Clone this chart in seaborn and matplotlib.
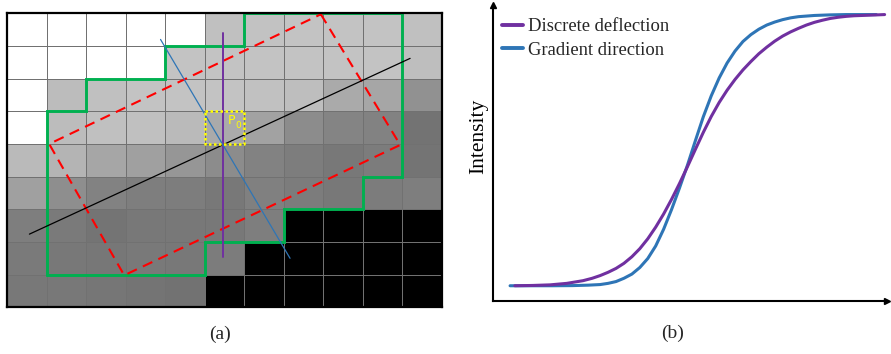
import numpy as np
import pandas as pd
import matplotlib
matplotlib.use("Agg")
import matplotlib.pyplot as plt
import seaborn as sns

# ---------------- panel (a): pixel neighbourhood ----------------
row0 = [255, 255, 255, 255, 255, 192, 194, 195, 195, 195, 192]
row1 = [255, 255, 255, 255, 195, 195, 195, 195, 195, 195, 190]
row2 = [255, 188, 192, 195, 195, 195, 193, 190, 170, 166, 145]
row3 = [255, 188, 192, 192, 186, 170, 162, 140, 132, 130, 115]
row4 = [186, 180, 166, 160, 150, 140, 130, 125, 120, 124, 116]
row5 = [160, 142, 130, 126, 125, 120, 128, 124, 120, 124, 126]
row6 = [126, 122, 116, 120, 120, 120, 126, 0, 0, 0, 0]
row7 = [122, 120, 119, 121, 120, 124, 0, 0, 0, 0, 0]
row8 = [120, 120, 118, 116, 114, 0, 0, 0, 0, 0, 0]
pixel_rows = [row0, row1, row2, row3, row4, row5, row6, row7, row8]

# region outline (column, row) in cell units
region_x = [1, 1, 2, 2, 4, 4, 6, 6, 10, 10, 9, 9, 7, 7, 5, 5, 1]
region_y = [8, 3, 3, 2, 2, 1, 1, 0, 0, 5, 5, 6, 6, 7, 7, 8, 8]

# rotated support window
window_x = [7.94, 9.95, 2.96, 1.06, 7.94]
window_y = [0.03, 4.03, 8.02, 4.00, 0.03]

# edge line, discrete (vertical) direction and gradient direction
edge_x, edge_y = [0.56, 10.2], [6.76, 1.38]
discrete_x, discrete_y = [5.45, 5.45], [0.61, 7.47]
gradient_x, gradient_y = [3.88, 7.16], [0.80, 7.50]

# centre pixel P0
p0_x = [5, 6, 6, 5, 5]
p0_y = [3, 3, 4, 4, 3]

# ---------------- panel (b): intensity profiles ----------------
discrete_pos = [5.5, 10, 14.4, 18.6, 22.7, 25, 27, 29, 31, 33, 35, 37, 39,
                41, 43, 45, 47, 49, 51, 53, 55, 57, 59, 61, 63, 65, 67, 69,
                71, 73, 75, 77, 79, 81, 83, 85, 87, 89, 91, 95, 98.7]
discrete_val = [5.1, 5.2, 5.4, 5.9, 6.8, 7.6, 8.5, 9.6, 10.9, 12.6, 14.8,
                17.5, 20.8, 24.7, 29.1, 34.0, 39.3, 44.9, 50.7, 56.4, 61.7,
                66.4, 70.5, 74.1, 77.3, 80.1, 82.7, 84.9, 86.9, 88.6, 90.0,
                91.2, 92.3, 93.2, 93.9, 94.5, 94.9, 95.2, 95.4, 95.6, 95.8]
gradient_pos = [4.3, 10, 15, 20, 24, 27, 29, 31, 33, 35, 37, 39, 41, 43, 45,
                47, 49, 51, 53, 55, 57, 59, 61, 63, 65, 67, 69, 71, 73, 75,
                77, 81, 85, 89, 96.6]
gradient_val = [5.1, 5.1, 5.1, 5.15, 5.3, 5.5, 5.9, 6.5, 7.6, 9.0, 11.2,
                14.2, 18.4, 24.0, 30.6, 37.8, 45.4, 53.6, 61.6, 68.6, 74.6,
                79.6, 83.6, 86.8, 89.1, 90.9, 92.3, 93.3, 94.1, 94.7, 95.1,
                95.5, 95.7, 95.8, 95.8]

series_names = ["Discrete deflection", "Gradient direction"]
series_colors = ["#7030a0", "#2e75b6"]

sns.set_theme(style="white")
plt.rcParams["font.family"] = ["Liberation Serif", "DejaVu Serif"]

fig = plt.figure(figsize=(8.91, 3.54), dpi=100)
W, H = 891.0, 354.0

# ---- (a)
ax_a = fig.add_axes([7.3 / W, 1 - 307.3 / H, 434.4 / W, 294.0 / H])
grid = pd.DataFrame(pixel_rows)
sns.heatmap(grid, cmap="gray", vmin=0, vmax=255, cbar=False,
            linewidths=0.6, linecolor="#717171",
            xticklabels=False, yticklabels=False, ax=ax_a)
for s in ax_a.spines.values():
    s.set_visible(True)
    s.set_color("black")
    s.set_linewidth(1.6)

ax_a.plot(region_x, region_y, color="#00b050", lw=2.1, solid_joinstyle="miter")
ax_a.plot(window_x, window_y, color="#ff0000", lw=1.5, linestyle=(0, (5, 3.2)))
ax_a.plot(edge_x, edge_y, color="black", lw=0.9)
ax_a.plot(discrete_x, discrete_y, color="#7030a0", lw=1.4)
ax_a.plot(gradient_x, gradient_y, color="#2e75b6", lw=0.9)
ax_a.plot(p0_x, p0_y, color="#ffff00", lw=1.8, linestyle=(0, (1, 1)))
ax_a.text(5.57, 3.27, "P", color="#ffff00", fontsize=9, family="DejaVu Sans",
          ha="left", va="center")
ax_a.text(5.77, 3.45, "0", color="#ffff00", fontsize=6.5, family="DejaVu Sans",
          ha="left", va="center")

# ---- (b)
ax_b = fig.add_axes([492.7 / W, 1 - 301.0 / H, 394.3 / W, 296.0 / H])
profiles = pd.concat([
    pd.DataFrame({"pos": gradient_pos, "val": gradient_val, "kind": series_names[1]}),
    pd.DataFrame({"pos": discrete_pos, "val": discrete_val, "kind": series_names[0]}),
], ignore_index=True)
palette = dict(zip(series_names, series_colors))
sns.lineplot(data=profiles, x="pos", y="val", hue="kind", palette=palette,
             hue_order=[series_names[1], series_names[0]],
             estimator=None, sort=False, lw=2.2, ax=ax_b, legend=False)
ax_b.set_xlim(-0.08, 99.3)
ax_b.set_ylim(0, 99.0)
ax_b.set_xticks([])
ax_b.set_yticks([])
ax_b.set_xlabel("")
for side in ["top", "right"]:
    ax_b.spines[side].set_visible(False)
for side in ["left", "bottom"]:
    ax_b.spines[side].set_visible(True)
    ax_b.spines[side].set_color("black")
    ax_b.spines[side].set_linewidth(1.5)
ax_b.plot(1, 0, marker=">", color="black", ms=4.5, transform=ax_b.transAxes, clip_on=False)
ax_b.plot(0, 1, marker="^", color="black", ms=4.5, transform=ax_b.transAxes, clip_on=False)

ax_b.set_ylabel("Intensity", fontsize=15.5, color="black")
ax_b.yaxis.set_label_coords(-0.012, 0.555)

handles = [plt.Line2D([], [], color=c, lw=2.8) for c in series_colors]
ax_b.legend(handles, series_names, loc="upper left",
            bbox_to_anchor=(0.0227, 0.955), borderaxespad=0, borderpad=0,
            frameon=False, fontsize=13.4, handlelength=1.16,
            handletextpad=0.27, labelspacing=0.33)

fig.text(220 / W, 1 - 334 / H, "(a)", fontsize=14, ha="center", va="center")
fig.text(673 / W, 1 - 333 / H, "(b)", fontsize=14, ha="center", va="center")

fig.savefig("out.png", dpi=100)
